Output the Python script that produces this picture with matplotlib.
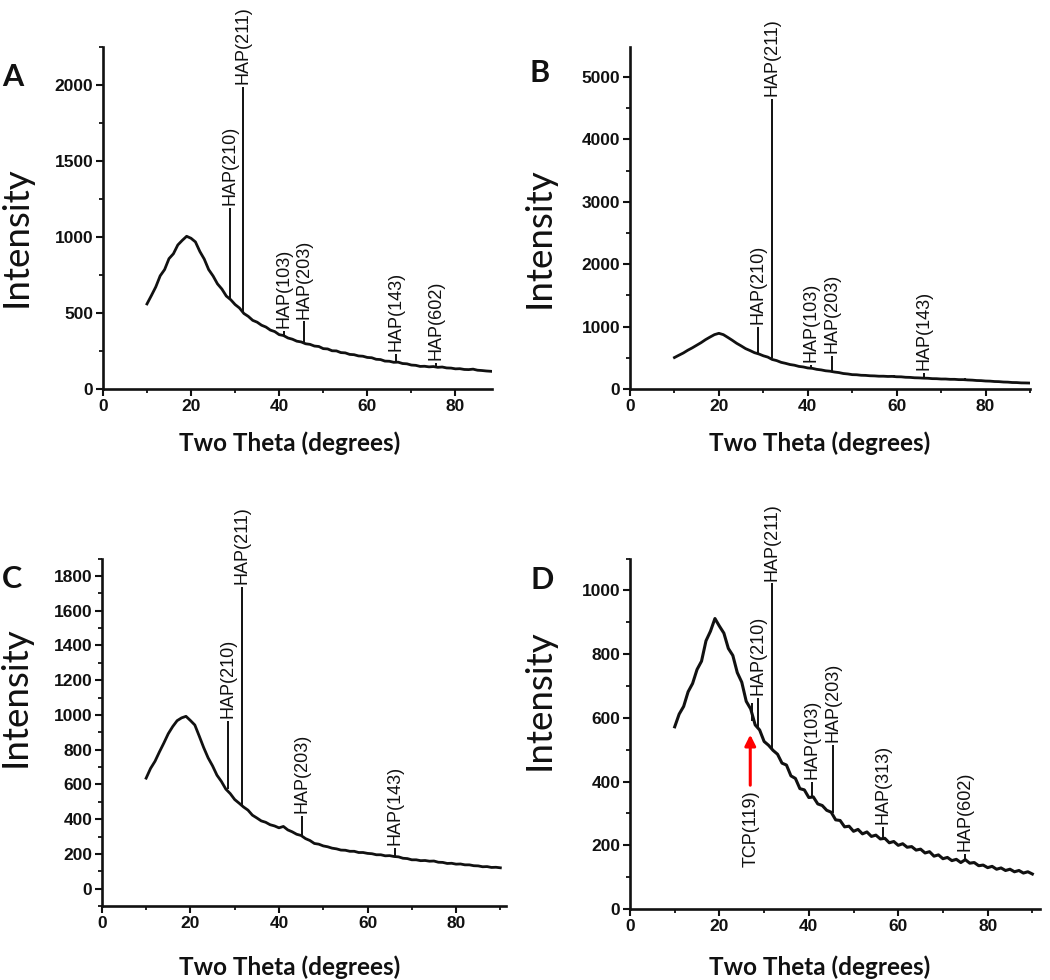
import numpy as np
import matplotlib.pyplot as plt
from matplotlib.ticker import MultipleLocator

# ---- data ----
# panel A : x grid 10..88
a_x = np.arange(10, 89)
a_y = [560, 615, 672, 745, 786, 858, 890, 948, 978, 1005,
       992, 968, 905, 855, 786, 744, 692, 658, 612, 588,
       556, 533, 497, 478, 452, 440, 420, 408, 388, 378,
       358, 352, 336, 328, 315, 310, 298, 294, 283, 280,
       266, 264, 252, 251, 240, 238, 228, 226, 218, 216,
       208, 206, 196, 194, 184, 183, 176, 177, 168, 166,
       158, 156, 149, 150, 146, 148, 143, 145, 139, 138,
       133, 134, 129, 128, 131, 124, 122, 119, 117]
a_peak_x = [28.9, 31.9, 41.0, 45.6, 66.6, 75.6]
a_peak_base = [590, 505, 350, 305, 178, 148]
a_peak_top = [1190, 1990, 382, 445, 232, 170]
a_labels = ['HAP(210)', 'HAP(211)', 'HAP(103)', 'HAP(203)', 'HAP(143)', 'HAP(602)']

# panel B : x grid 10..90
b_x = np.arange(10, 91)
b_y = [505, 542, 578, 622, 660, 702, 744, 792, 833, 872,
       893, 872, 828, 782, 733, 692, 648, 617, 583, 562,
       533, 512, 474, 456, 428, 412, 393, 382, 363, 354,
       338, 332, 316, 307, 293, 286, 273, 264, 249, 242,
       231, 229, 221, 219, 213, 211, 206, 206, 202, 203,
       197, 196, 189, 187, 181, 179, 175, 173, 167, 166,
       161, 161, 156, 156, 151, 151, 146, 143, 137, 135,
       129, 127, 121, 119, 113, 111, 105, 104, 99, 98, 96]
b_peak_x = [28.7, 31.9, 40.8, 45.5, 59.4, 66.2, 75.4]
b_peak_base = [575, 490, 335, 283, 202, 177, 150]
b_peak_top = [990, 4650, 390, 535, 225, 265, 172]
b_labels = ['HAP(210)', 'HAP(211)', 'HAP(103)', 'HAP(203)', '', 'HAP(143)', '']

# panel C : x grid 10..90
c_x = np.arange(10, 91)
c_y = [636, 692, 733, 787, 838, 892, 933, 967, 983, 992,
       968, 942, 878, 812, 753, 707, 653, 617, 573, 547,
       513, 492, 470, 452, 423, 407, 390, 382, 368, 361,
       350, 358, 338, 327, 313, 306, 288, 277, 260, 256,
       246, 241, 233, 229, 222, 221, 215, 215, 208, 208,
       203, 201, 195, 195, 189, 190, 185, 183, 175, 173,
       166, 166, 161, 162, 158, 159, 152, 151, 145, 146,
       141, 142, 137, 137, 132, 131, 126, 127, 122, 123, 120]
c_peak_x = [28.5, 31.7, 45.3, 66.2]
c_peak_base = [575, 480, 303, 190]
c_peak_top = [965, 1735, 420, 236]
c_labels = ['HAP(210)', 'HAP(211)', 'HAP(203)', 'HAP(143)']

# panel D : x grid 10..90
d_x = np.arange(10, 91)
d_y = [572, 612, 636, 682, 708, 752, 778, 842, 872, 912,
       888, 866, 818, 796, 742, 712, 652, 628, 578, 562,
       526, 514, 498, 486, 458, 452, 418, 410, 378, 374,
       350, 352, 330, 325, 310, 304, 280, 278, 258, 260,
       244, 250, 236, 242, 228, 232, 220, 222, 208, 212,
       200, 205, 194, 196, 185, 188, 176, 180, 166, 170,
       158, 162, 152, 156, 146, 155, 144, 146, 136, 138,
       130, 134, 125, 129, 121, 125, 117, 121, 113, 117, 110]
d_peak_x = [27.4, 28.6, 31.8, 40.8, 45.4, 56.5, 75.0]
d_peak_base = [590, 570, 505, 350, 300, 222, 152]
d_peak_top = [648, 663, 1022, 400, 515, 258, 172]
d_labels = ['', 'HAP(210)', 'HAP(211)', 'HAP(103)', 'HAP(203)', 'HAP(313)', 'HAP(602)']
tcp_x = 26.9
tcp_tail, tcp_tip = 380, 556

fig = plt.figure(figsize=(10.5, 9.8), dpi=100)

panels = [
    ('A', [0.098, 0.603, 0.371, 0.349], (0, 88.4), (0, 2250), 500, 250,
     a_x, a_y, a_peak_x, a_peak_base, a_peak_top, a_labels),
    ('B', [0.600, 0.603, 0.381, 0.349], (0, 90), (0, 5480), 1000, 500,
     b_x, b_y, b_peak_x, b_peak_base, b_peak_top, b_labels),
    ('C', [0.097, 0.0755, 0.385, 0.3545], (0, 91.3), (-100, 1900), 200, 100,
     c_x, c_y, c_peak_x, c_peak_base, c_peak_top, c_labels),
    ('D', [0.600, 0.0724, 0.390, 0.3576], (0, 91.6), (0, 1100), 200, 100,
     d_x, d_y, d_peak_x, d_peak_base, d_peak_top, d_labels),
]

letter_pos = {'A': (0.0124, 0.921), 'B': (0.514, 0.925), 'C': (0.0114, 0.409), 'D': (0.516, 0.408)}
ylab_pos = {'A': (0.015, 0.759), 'B': (0.513, 0.758), 'C': (0.014, 0.289), 'D': (0.513, 0.286)}
xlab_pos = {'A': (0.276, 0.548), 'B': (0.781, 0.548), 'C': (0.276, 0.013), 'D': (0.781, 0.013)}

for name, rect, xl, yl, ymaj, ymin, x, y, px, pb, pt, labs in panels:
    ax = fig.add_axes(rect)
    # broad amorphous background
    ax.plot(x, y, color='#111111', lw=2.2 if name == 'D' else 2.0)
    # sharp reflections as thin sticks
    ax.vlines(px, pb, pt, color='#111111', lw=1.4)
    for p, t, lab in zip(px, pt, labs):
        if lab:
            ax.annotate(lab, (p, t), xytext=(0, 2), textcoords='offset points',
                        rotation=90, ha='center', va='bottom', fontsize=13,
                        family='Liberation Sans', color='#111111')
    ax.set_xlim(*xl)
    ax.set_ylim(*yl)
    ax.xaxis.set_major_locator(MultipleLocator(20))
    ax.xaxis.set_minor_locator(MultipleLocator(10))
    ax.yaxis.set_major_locator(MultipleLocator(ymaj))
    ax.yaxis.set_minor_locator(MultipleLocator(ymin))
    if name == 'C':
        ax.set_yticks(np.arange(0, 1801, 200))
    for s in ['top', 'right']:
        ax.spines[s].set_visible(False)
    for s in ['left', 'bottom']:
        ax.spines[s].set_linewidth(1.9)
        ax.spines[s].set_color('#111111')
    ax.tick_params(which='major', length=5, width=1.5, direction='out', pad=2,
                   labelsize=12.5, colors='#111111')
    ax.tick_params(which='minor', length=2.8, width=1.3, direction='out', colors='#111111')
    for lab in ax.get_xticklabels() + ax.get_yticklabels():
        lab.set_family('Liberation Sans')
        lab.set_fontweight('bold')
    if name == 'D':
        ax.annotate('', xy=(tcp_x, tcp_tip), xytext=(tcp_x, tcp_tail),
                    arrowprops=dict(arrowstyle='-|>', color='red', lw=2.2, mutation_scale=16))
        ax.text(tcp_x + 0.2, tcp_tail - 8, 'TCP(119)', rotation=90, ha='center', va='top',
                fontsize=13, family='Liberation Sans', color='#111111')

    lx, ly = letter_pos[name]
    fig.text(lx, ly, name, fontsize=22, fontweight='bold', family='Lato',
             ha='center', va='center', color='#111111')
    yx, yy = ylab_pos[name]
    fig.text(yx, yy, 'Intensity', rotation=90, fontsize=26.5, family='Lato',
             ha='center', va='center', color='#111111')
    xx, xy = xlab_pos[name]
    fig.text(xx, xy, 'Two Theta (degrees)', fontsize=17.5, fontweight='bold', family='Lato',
             ha='center', va='center', color='#111111')

fig.savefig('out.png', dpi=100)
